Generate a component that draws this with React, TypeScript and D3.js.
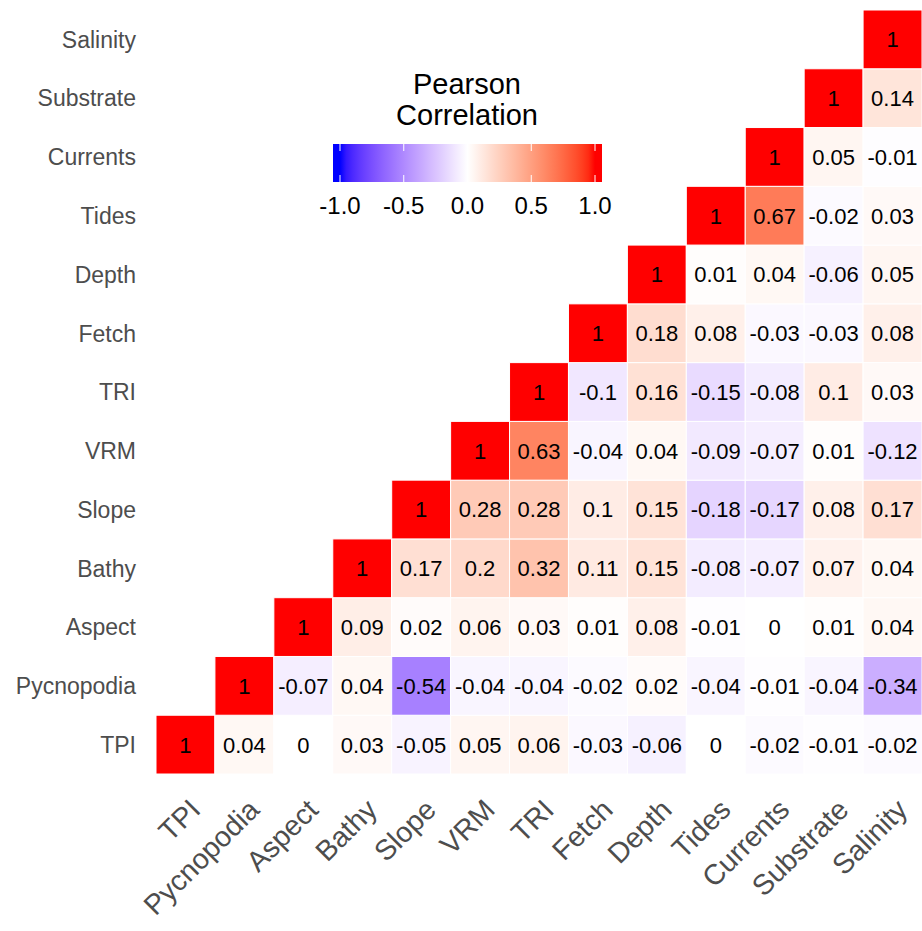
import { useRef, useEffect } from 'react';
import * as d3 from 'd3';

// variables, bottom row -> top row (and left -> right columns)
const VARS = ['TPI', 'Pycnopodia', 'Aspect', 'Bathy', 'Slope', 'VRM', 'TRI', 'Fetch', 'Depth', 'Tides', 'Currents', 'Substrate', 'Salinity'];

// each row: values from the diagonal to the right edge
const ROW_TPI = [1, 0.04, 0, 0.03, -0.05, 0.05, 0.06, -0.03, -0.06, 0, -0.02, -0.01, -0.02];
const ROW_PYCNOPODIA = [1, -0.07, 0.04, -0.54, -0.04, -0.04, -0.02, 0.02, -0.04, -0.01, -0.04, -0.34];
const ROW_ASPECT = [1, 0.09, 0.02, 0.06, 0.03, 0.01, 0.08, -0.01, 0, 0.01, 0.04];
const ROW_BATHY = [1, 0.17, 0.2, 0.32, 0.11, 0.15, -0.08, -0.07, 0.07, 0.04];
const ROW_SLOPE = [1, 0.28, 0.28, 0.1, 0.15, -0.18, -0.17, 0.08, 0.17];
const ROW_VRM = [1, 0.63, -0.04, 0.04, -0.09, -0.07, 0.01, -0.12];
const ROW_TRI = [1, -0.1, 0.16, -0.15, -0.08, 0.1, 0.03];
const ROW_FETCH = [1, 0.18, 0.08, -0.03, -0.03, 0.08];
const ROW_DEPTH = [1, 0.01, 0.04, -0.06, 0.05];
const ROW_TIDES = [1, 0.67, -0.02, 0.03];
const ROW_CURRENTS = [1, 0.05, -0.01];
const ROW_SUBSTRATE = [1, 0.14];
const ROW_SALINITY = [1];

const ROWS = [ROW_TPI, ROW_PYCNOPODIA, ROW_ASPECT, ROW_BATHY, ROW_SLOPE, ROW_VRM, ROW_TRI,
  ROW_FETCH, ROW_DEPTH, ROW_TIDES, ROW_CURRENTS, ROW_SUBSTRATE, ROW_SALINITY];

const LEGEND_TICKS = [-1, -0.5, 0, 0.5, 1];

const W = 922, H = 931;
const FONT = '"Liberation Sans", Arial, sans-serif';

export default function App() {
  const svgRef = useRef<SVGSVGElement>(null);

  useEffect(() => {
    const svg = d3.select(svgRef.current);
    svg.selectAll('*').remove();

    const left = 156, right = 922, top = 10, bottom = 774;
    const x = d3.scaleBand().domain(VARS).range([left, right]).padding(0);
    const y = d3.scaleBand().domain(VARS).range([bottom, top]).padding(0);

    const blue = d3.interpolateLab('#FFFFFF', '#0000FF');
    const red = d3.interpolateLab('#FFFFFF', '#FF0000');
    const color = (v: number) => (v < 0 ? blue(-v) : red(v));

    const cells: { row: string; col: string; v: number }[] = [];
    ROWS.forEach((vals, i) => {
      vals.forEach((v, k) => cells.push({ row: VARS[i], col: VARS[i + k], v }));
    });

    const g = svg.append('g');
    g.selectAll('rect.cell').data(cells).join('rect').attr('class', 'cell')
      .attr('x', d => x(d.col)!)
      .attr('y', d => y(d.row)!)
      .attr('width', x.bandwidth())
      .attr('height', y.bandwidth())
      .attr('fill', d => color(d.v))
      .attr('stroke', '#fff').attr('stroke-width', 1);

    g.selectAll('text.val').data(cells).join('text').attr('class', 'val')
      .attr('x', d => x(d.col)! + x.bandwidth() / 2)
      .attr('y', d => y(d.row)! + y.bandwidth() / 2)
      .attr('dy', '0.36em')
      .attr('text-anchor', 'middle')
      .attr('font-family', FONT).attr('font-size', 22).attr('fill', '#000')
      .text(d => String(d.v));

    // y axis labels
    svg.append('g').selectAll('text').data(VARS).join('text')
      .attr('x', 136)
      .attr('y', d => y(d)! + y.bandwidth() / 2)
      .attr('dy', '0.36em')
      .attr('text-anchor', 'end')
      .attr('font-family', FONT).attr('font-size', 23).attr('fill', '#4D4D4D')
      .text(d => d);

    // x axis labels (rotated 45)
    svg.append('g').selectAll('text').data(VARS).join('text')
      .attr('transform', d => `translate(${x(d)! + x.bandwidth() / 2 + 2},${797}) rotate(-45)`)
      .attr('dy', '0.72em')
      .attr('text-anchor', 'end')
      .attr('font-family', FONT).attr('font-size', 28.5).attr('fill', '#4D4D4D')
      .text(d => d);

    // legend
    const lx = d3.scaleLinear().domain([-1, 1]).range([340, 595]);
    const barX0 = 333, barX1 = 602, barY = 144, barH = 38;
    const defs = svg.append('defs');
    const grad = defs.append('linearGradient').attr('id', 'lg')
      .attr('x1', barX0).attr('x2', barX1).attr('y1', 0).attr('y2', 0)
      .attr('gradientUnits', 'userSpaceOnUse');
    d3.range(0, 41).forEach(i => {
      const v = -1 + i / 20;
      grad.append('stop').attr('offset', (lx(v) - barX0) / (barX1 - barX0)).attr('stop-color', color(v));
    });
    const leg = svg.append('g');
    leg.append('rect').attr('x', barX0).attr('y', barY).attr('width', barX1 - barX0).attr('height', barH)
      .attr('fill', 'url(#lg)');
    LEGEND_TICKS.forEach(t => {
      leg.append('line').attr('x1', lx(t)).attr('x2', lx(t)).attr('y1', barY).attr('y2', barY + 7)
        .attr('stroke', '#fff').attr('stroke-width', 1);
      leg.append('line').attr('x1', lx(t)).attr('x2', lx(t)).attr('y1', barY + barH - 7).attr('y2', barY + barH)
        .attr('stroke', '#fff').attr('stroke-width', 1);
      leg.append('text').attr('x', lx(t)).attr('y', 214).attr('text-anchor', 'middle')
        .attr('font-family', FONT).attr('font-size', 24).attr('fill', '#000')
        .text(d3.format('.1f')(t).replace('−', '-'));
    });
    leg.append('text').attr('x', 467).attr('y', 94).attr('text-anchor', 'middle')
      .attr('font-family', FONT).attr('font-size', 29).attr('fill', '#000').text('Pearson');
    leg.append('text').attr('x', 467).attr('y', 125).attr('text-anchor', 'middle')
      .attr('font-family', FONT).attr('font-size', 29).attr('fill', '#000').text('Correlation');
  }, []);

  return (
    <div style={{ position: 'absolute', left: 0, top: 0 }}>
      <svg ref={svgRef} width={W} height={H} style={{ display: 'block', background: '#fff' }} />
    </div>
  );
}
